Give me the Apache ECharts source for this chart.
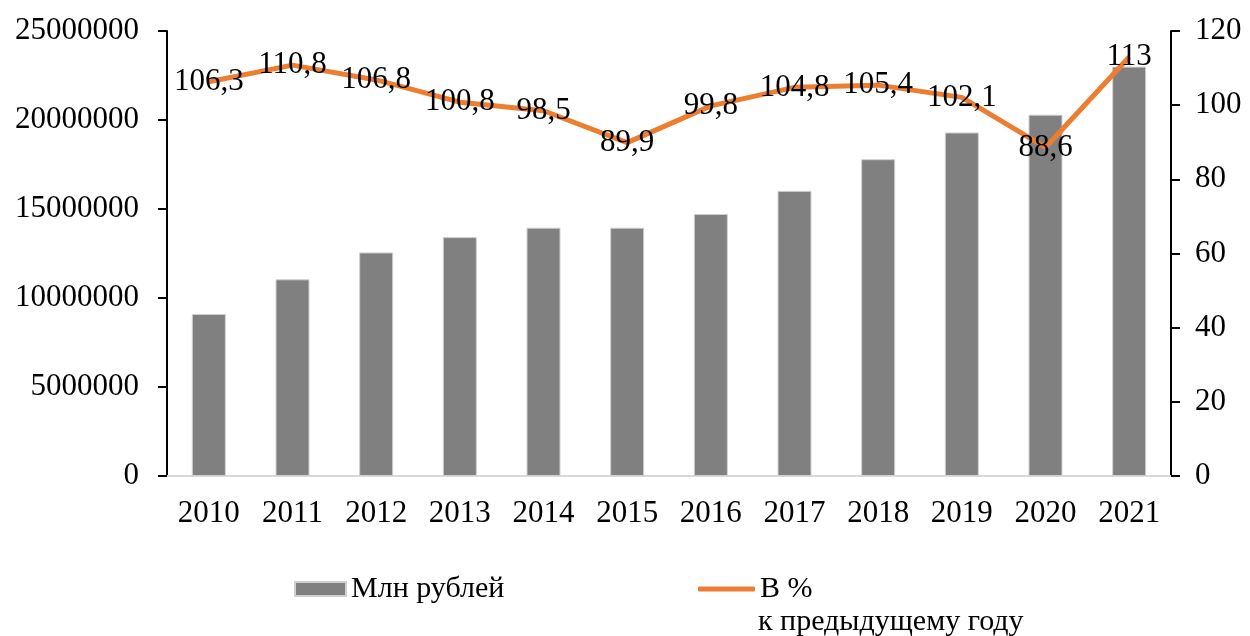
<!DOCTYPE html>
<html>
<head>
<meta charset="utf-8">
<script src="https://cdn.jsdelivr.net/npm/echarts@6/dist/echarts.min.js"></script>
<style>
    html, body { margin: 0; padding: 0; background: #fff; }
    #chart { width: 1250px; height: 636px; }
</style>
</head>
<body>
<div id="chart"></div>
<script>
// years on the category axis
const years = ['2010', '2011', '2012', '2013', '2014', '2015', '2016', '2017', '2018', '2019', '2020', '2021'];
// bars, million rubles
const rubles = [9100000, 11050000, 12560000, 13420000, 13950000, 13950000, 14720000, 16020000, 17800000, 19300000, 20300000, 23000000];
// line, % to previous year
const percent = [106.3, 110.8, 106.8, 100.8, 98.5, 89.9, 99.8, 104.8, 105.4, 102.1, 88.6, 113];

const barName = 'Млн рублей';
const lineName = 'В %';
const lineNameTail = 'к предыдущему году';

const font = 'Liberation Serif, Times New Roman, serif';
const fontSize = 31;

let chart = echarts.init(document.getElementById('chart'));

let legendText = {fontFamily: font, fontSize: 30, color: '#000'};

chart.setOption({
    animation: false,
    textStyle: {fontFamily: font, color: '#000'},
    grid: {left: 167, right: 79, top: 31, bottom: 160},
    legend: [
        {
            left: 294,
            top: 574,
            padding: 0,
            itemWidth: 51,
            itemHeight: 14,
            selectedMode: false,
            textStyle: legendText,
            data: [{name: barName, icon: 'rect'}]
        },
        {
            left: 698,
            top: 574,
            padding: 0,
            itemWidth: 57,
            itemHeight: 5,
            selectedMode: false,
            textStyle: legendText,
            data: [{name: lineName, icon: 'roundRect'}]
        }
    ],
    // second line of the line series' legend caption
    graphic: [
        {
            type: 'text',
            left: 758,
            top: 607,
            style: {text: lineNameTail, fontFamily: font, fontSize: 30, fill: '#000'}
        }
    ],
    xAxis: {
        type: 'category',
        data: years,
        axisLine: {lineStyle: {color: '#d9d9d9', width: 2}},
        axisTick: {show: false},
        axisLabel: {fontFamily: font, fontSize: fontSize, color: '#000', margin: 22}
    },
    yAxis: [
        {
            type: 'value',
            min: 0,
            max: 25000000,
            interval: 5000000,
            axisLine: {show: true, lineStyle: {color: '#000', width: 2}},
            axisTick: {show: true, inside: false, length: 9, lineStyle: {color: '#000', width: 2}},
            splitLine: {show: false},
            axisLabel: {fontFamily: font, fontSize: fontSize, color: '#000', margin: 28, formatter: v => String(v)}
        },
        {
            type: 'value',
            min: 0,
            max: 120,
            interval: 20,
            position: 'right',
            axisLine: {show: true, lineStyle: {color: '#000', width: 2}},
            axisTick: {show: true, inside: false, length: 9, lineStyle: {color: '#000', width: 2}},
            splitLine: {show: false},
            axisLabel: {fontFamily: font, fontSize: fontSize, color: '#000', margin: 24}
        }
    ],
    series: [
        {
            name: barName,
            type: 'bar',
            data: rubles,
            barWidth: 34,
            itemStyle: {color: '#808080', borderColor: '#d0d0d0', borderWidth: 1}
        },
        {
            name: lineName,
            type: 'line',
            yAxisIndex: 1,
            data: percent,
            symbol: 'circle',
            symbolSize: 2,
            lineStyle: {color: '#ed7d31', width: 5},
            itemStyle: {color: '#ed7d31'},
            label: {
                show: true,
                position: 'inside',
                fontFamily: font,
                fontSize: fontSize,
                color: '#000',
                formatter: p => String(p.value).replace('.', ',')
            }
        }
    ]
});
</script>
</body>
</html>
